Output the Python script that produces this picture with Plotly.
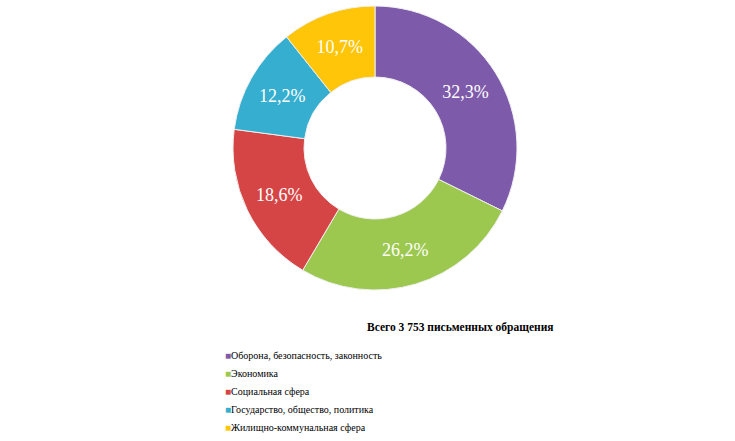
import plotly.graph_objects as go

categories = [
    "Оборона, безопасность, законность",
    "Экономика",
    "Социальная сфера",
    "Государство, общество, политика",
    "Жилищно-коммунальная сфера",
]
shares = [32.3, 26.2, 18.6, 12.2, 10.7]
colors = ["#7E5BAA", "#9CC84F", "#D64545", "#35AECF", "#FFC508"]
total_title = "Всего 3 753 письменных обращения"

labels_text = [f"{v:.1f}%".replace(".", ",") for v in shares]

fig = go.Figure(go.Pie(
    labels=categories,
    values=shares,
    text=labels_text,
    textinfo="text",
    textposition="inside",
    insidetextorientation="horizontal",
    hole=0.5,
    sort=False,
    direction="clockwise",
    rotation=0,
    marker=dict(colors=colors, line=dict(color="#EFEFEF", width=1)),
    textfont=dict(family="Liberation Serif", size=18, color="white"),
    domain=dict(x=[233 / 735, 517 / 735], y=[1 - 290 / 441, 1 - 6 / 441]),
    hoverinfo="label+percent",
    showlegend=False,
))

fig.add_annotation(
    text="<b>" + total_title + "</b>",
    x=460 / 735, y=1 - 327 / 441,
    xref="paper", yref="paper",
    xanchor="center", yanchor="middle",
    showarrow=False,
    font=dict(family="Liberation Serif", size=11.5, color="black"),
)

# legend drawn as text rows: small colored square + category name
legend_rows_y = [355, 373, 391, 409, 427]
for name, col, yy in zip(categories, colors, legend_rows_y):
    fig.add_annotation(
        text=f"<span style='color:{col}'>■</span>" + name,
        x=223 / 735, y=1 - yy / 441,
        xref="paper", yref="paper",
        xanchor="left", yanchor="middle",
        showarrow=False,
        font=dict(family="Liberation Serif", size=10, color="black"),
    )

fig.update_layout(
    width=735,
    height=441,
    margin=dict(l=0, r=0, t=0, b=0),
    paper_bgcolor="white",
    plot_bgcolor="white",
)

fig.write_html("out.html", config={"displayModeBar": False},
               post_script="document.body.style.margin='0';")
